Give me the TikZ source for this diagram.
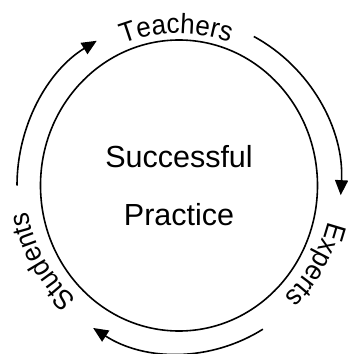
\documentclass[tikz,border=0pt]{standalone}
\usepackage{fontspec}
\setmainfont{Liberation Sans}
\newfontfamily\lblfamily[FakeStretch=0.93]{Liberation Sans}
\usetikzlibrary{arrows.meta, shapes.geometric, decorations.text}

\newcommand{\lblfont}{\lblfamily\fontsize{28}{32}\selectfont}

\begin{document}
\begin{tikzpicture}[
  cycle arrow/.style={line width=1.6pt, -{Triangle[length=15pt, width=13pt]}},
  ring label/.style={decorate,
    decoration={text along path, text align=center, text={|\lblfont|#1}}}
]
  \useasboundingbox (-179pt,-168.5pt) rectangle (169pt,185.5pt);

  %--- centre: the practice ---
  \node[ellipse, draw, line width=1.6pt, minimum width=277pt, minimum height=291pt,
        inner sep=0pt, align=center, font=\fontsize{30.5}{58}\selectfont]
    (practice) at (0,0) {Successful\\Practice};

  %--- clockwise arrows ---
  \draw[cycle arrow] (180:162pt and 168pt)
    arc[start angle=180, end angle=120.5, x radius=162pt, y radius=168pt];
  \draw[cycle arrow] (62.5:162pt and 168pt)
    arc[start angle=62.5, end angle=-3.3, x radius=162pt, y radius=168pt];
  \draw[cycle arrow] (-58.8:162pt and 168pt)
    arc[start angle=-58.8, end angle=-122, x radius=162pt, y radius=168pt];

  %--- labels along the ring ---
  \path[ring label=Teachers] (151:152pt) arc[start angle=151, end angle=31, radius=152pt];
  \path[ring label=Experts] (30:153pt) arc[start angle=30, end angle=-90, radius=153pt];
  \path[ring label=Students] (269:153pt) arc[start angle=269, end angle=149, radius=153pt];
\end{tikzpicture}
\end{document}
